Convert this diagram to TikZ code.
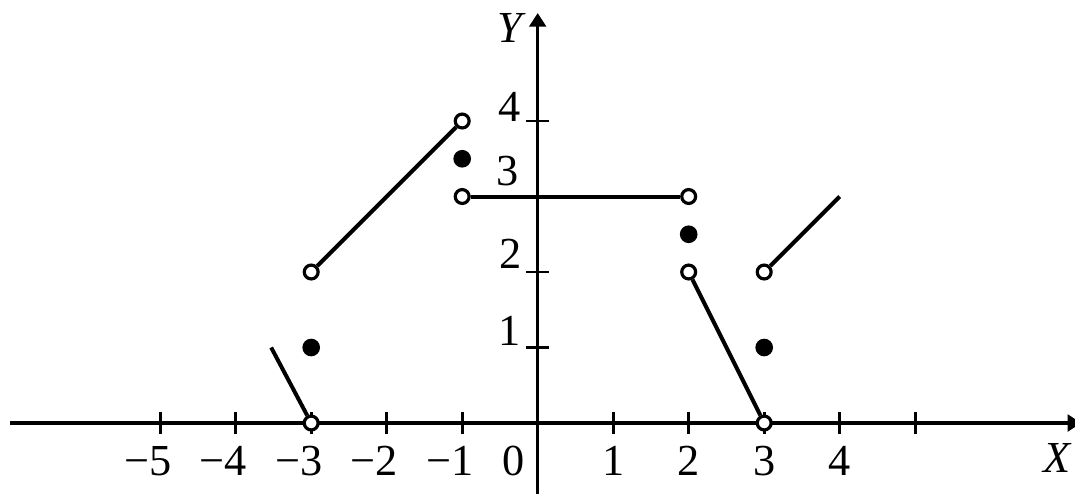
\documentclass[tikz,border=0pt]{standalone}
\usepackage{fontspec}
\setmainfont{Liberation Serif}
\usetikzlibrary{arrows.meta}
\begin{document}
\begin{tikzpicture}[
  axisline/.style={line width=1.2pt,-{Triangle[length=0.18cm,width=0.22cm]}},
  tickmark/.style={line width=1pt},
  seg/.style={line width=1.5pt},
  opendot/.style={circle,draw,fill=white,line width=1.2pt,minimum size=0.184cm,inner sep=0pt},
  fulldot/.style={circle,fill=black,minimum size=0.234cm,inner sep=0pt},
  lbl/.style={font=\fontsize{16.7}{20}\selectfont,inner sep=0pt},
]
\useasboundingbox (-7.122,-0.940) rectangle (7.117,5.603);
% axes
\coordinate (xs) at (-6.99,0);
\coordinate (xe) at (7.2,0);
\coordinate (ys) at (0,-1);
\coordinate (ye) at (0,5.43);
\draw[axisline] (xs) -- (xe);
\draw[axisline] (ys) -- (ye);
% ticks
\foreach \x in {-5,-4,-3,-2,-1,1,2,3,4,5}
  \draw[tickmark] (\x,-0.14) -- (\x,0.14);
\foreach \y in {1,2,4}
  \draw[tickmark] (-0.15,\y) -- (0.15,\y);
% x labels
\node[lbl,anchor=base] (lxm5) at (-5,-0.69) {\llap{−}5};
\node[lbl,anchor=base] (lxm4) at (-4,-0.69) {\llap{−}4};
\node[lbl,anchor=base] (lxm3) at (-3,-0.69) {\llap{−}3};
\node[lbl,anchor=base] (lxm2) at (-2,-0.69) {\llap{−}2};
\node[lbl,anchor=base] (lxm1) at (-1,-0.69) {\llap{−}1};
\node[lbl,anchor=base] (lx0) at (-0.32,-0.69) {0};
\node[lbl,anchor=base] (lx1) at (1,-0.69) {1};
\node[lbl,anchor=base] (lx2) at (2,-0.69) {2};
\node[lbl,anchor=base] (lx3) at (3,-0.69) {3};
\node[lbl,anchor=base] (lx4) at (4,-0.69) {4};
\node[lbl] (lX) at (6.88,-0.46) {\itshape X};
% y labels
\node[lbl,anchor=base east] (ly1) at (-0.22,1.03) {1};
\node[lbl,anchor=base east] (ly2) at (-0.2,2.05) {2};
\node[lbl,anchor=base east] (ly3) at (-0.24,3.15) {3};
\node[lbl,anchor=base east] (ly4) at (-0.22,3.99) {4};
\node[lbl] (lY) at (-0.37,5.23) {\itshape Y};
% points
\coordinate (c1) at (-3.53,1.0);
\coordinate (c2) at (4,3);
\node[opendot] (o1) at (-3,0) {};
\node[opendot] (o2) at (-3,2) {};
\node[opendot] (o3) at (-1,4) {};
\node[opendot] (o4) at (-1,3) {};
\node[opendot] (o5) at (2,3) {};
\node[opendot] (o6) at (2,2) {};
\node[opendot] (o7) at (3,0) {};
\node[opendot] (o8) at (3,2) {};
\node[fulldot] (f1) at (-3,1) {};
\node[fulldot] (f2) at (-1,3.5) {};
\node[fulldot] (f3) at (2,2.5) {};
\node[fulldot] (f4) at (3,1) {};
% segments
\draw[seg] (c1) -- (o1);
\draw[seg] (o2) -- (o3);
\draw[seg] (o4) -- (o5);
\draw[seg] (o6) -- (o7);
\draw[seg] (o8) -- (c2);
\end{tikzpicture}
\end{document}
